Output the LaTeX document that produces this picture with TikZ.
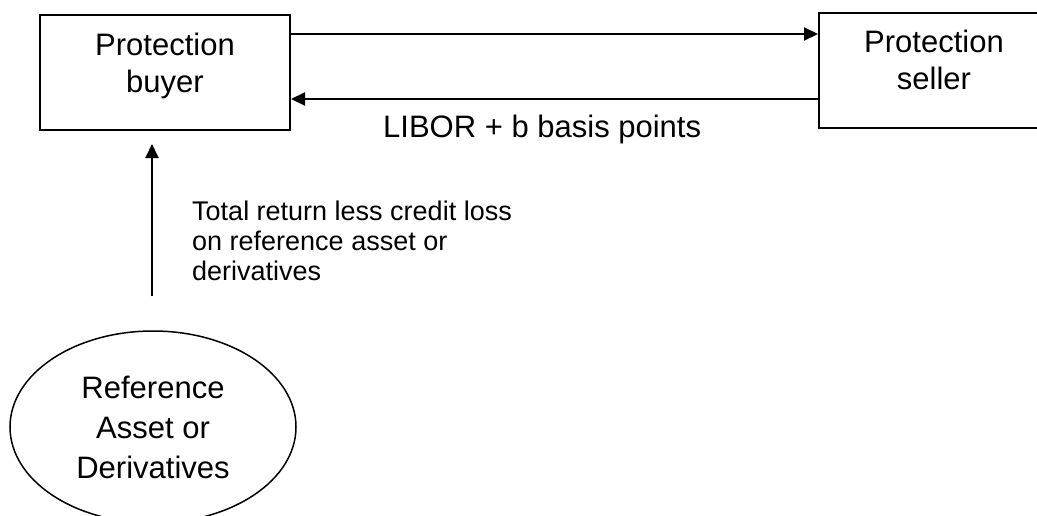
\documentclass[tikz,border=0pt]{standalone}
\usepackage{fontspec}
\setmainfont{Liberation Sans}
\usetikzlibrary{arrows.meta,shapes.geometric}
\begin{document}
\begin{tikzpicture}[x=1pt,y=-1pt,
  party/.style={draw, line width=2pt, inner sep=0pt, minimum height=115pt},
  asset/.style={draw, ellipse, line width=1.5pt, inner sep=0pt,
    minimum width=286pt, minimum height=192pt,
    font=\fontsize{31}{40}\selectfont, align=center},
  bigtext/.style={font=\fontsize{31}{37}\selectfont, align=center, inner sep=0pt},
  smalltext/.style={font=\fontsize{27}{30}\selectfont, align=left, inner sep=0pt},
  flow/.style={line width=2pt, -{Triangle[length=14pt,width=13pt]}}]
\useasboundingbox (0,0) rectangle (1037,515);

% the two counterparties (label anchors sit on the last line's baseline)
\node[party, minimum width=250pt] (buyer) at (165,72.5) {};
\node[party, minimum width=231pt] (seller) at (934.5,70.5) {};
\node[bigtext, anchor=base] (buyerlbl) at (165,92) {Protection\\buyer};
\node[bigtext, anchor=base] (sellerlbl) at (934,89) {Protection\\seller};

% the reference asset
\node[asset] (ref) at (153,427) {Reference\\Asset or\\Derivatives};

% payment flows between the parties
\coordinate (upper) at (0,34);
\coordinate (lower) at (0,99);
\draw[flow] (buyer.east |- upper) -- (seller.west |- upper);
\draw[flow] (seller.west |- lower) -- (buyer.east |- lower);
\node[bigtext, anchor=base west] (libor) at (383,137) {LIBOR + b basis points};

% return on the reference asset
\coordinate (retfoot) at ([xshift=-1pt, yshift=34pt]ref.north);
\coordinate (rettip) at ([yshift=-13pt]buyer.south -| retfoot);
\draw[flow] (retfoot) -- (rettip);
\node[smalltext, anchor=base west] (retlbl) at (192,280)
  {Total return less credit loss\\on reference asset or\\derivatives};
\end{tikzpicture}
\end{document}
